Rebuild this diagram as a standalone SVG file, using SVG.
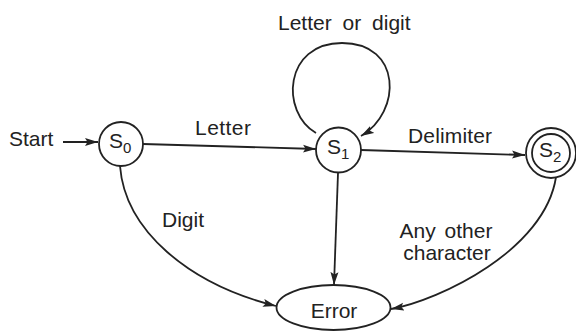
<svg xmlns="http://www.w3.org/2000/svg" width="576" height="332" viewBox="0 0 576 332">
  <style>
    .lbl { font-family: "Liberation Sans", Arial, sans-serif; font-size: 21px; fill: #222; }
    .st { fill: none; stroke: #222; stroke-width: 1.8; }
    .edge { fill: none; stroke: #222; stroke-width: 1.8; }
  </style>
  <defs>
    <marker id="arrow" markerUnits="userSpaceOnUse" markerWidth="15" markerHeight="10" refX="13" refY="4.5" orient="auto">
      <path d="M0,0.5 L13,4.5 L0,8.5 L2.5,4.5 Z" fill="#222"/>
    </marker>
  </defs>
  <rect width="576" height="332" fill="#fff"/>

  <g id="connectors">
    <!-- start arrow -->
    <line class="edge" x1="63" y1="142" x2="98" y2="142" marker-end="url(#arrow)"/>
    <!-- S0 -> S1 -->
    <line class="edge" x1="143" y1="144" x2="316" y2="149" marker-end="url(#arrow)"/>
    <!-- S1 self loop -->
    <path class="edge" d="M316,133 C280,112 284,43 342,43 C402,43 402,112 361,136" marker-end="url(#arrow)"/>
    <!-- S1 -> S2 -->
    <line class="edge" x1="361" y1="150" x2="525" y2="155" marker-end="url(#arrow)"/>
    <!-- S0 -> Error -->
    <path class="edge" d="M120,166 C125,230 188,284 276,306" marker-end="url(#arrow)"/>
    <!-- S1 -> Error -->
    <line class="edge" x1="338" y1="173" x2="334" y2="285" marker-end="url(#arrow)"/>
    <!-- S2 -> Error -->
    <path class="edge" d="M556,177 C545,250 440,300 391,309" marker-end="url(#arrow)"/>
  </g>

  <g id="edge-labels">
    <text class="lbl" x="9" y="146">Start</text>
    <text class="lbl" x="195" y="135" textLength="56">Letter</text>
    <text class="lbl" x="278" y="30" word-spacing="5">Letter or digit</text>
    <text class="lbl" x="408" y="143" textLength="84">Delimiter</text>
    <text class="lbl" x="162" y="227">Digit</text>
    <text class="lbl" x="446" y="238" text-anchor="middle" font-size="20" word-spacing="3">Any other</text>
    <text class="lbl" x="447" y="260" text-anchor="middle" font-size="20">character</text>
  </g>

  <g id="S0">
    <circle class="st" cx="121" cy="144" r="22"/>
    <text class="lbl" x="109" y="148" font-size="20">S<tspan font-size="15" dy="5">0</tspan></text>
  </g>
  <g id="S1">
    <circle class="st" cx="338.5" cy="150" r="22.5"/>
    <text class="lbl" x="327" y="154" font-size="20">S<tspan font-size="15" dy="5">1</tspan></text>
  </g>
  <g id="S2">
    <circle class="st" cx="551" cy="153" r="25"/>
    <circle class="st" cx="551" cy="153" r="19"/>
    <text class="lbl" x="539" y="157" font-size="20">S<tspan font-size="15" dy="5">2</tspan></text>
  </g>
  <g id="Error">
    <ellipse class="st" cx="333.5" cy="307.5" rx="57" ry="22.5"/>
    <text class="lbl" x="334" y="318" text-anchor="middle">Error</text>
  </g>
</svg>
